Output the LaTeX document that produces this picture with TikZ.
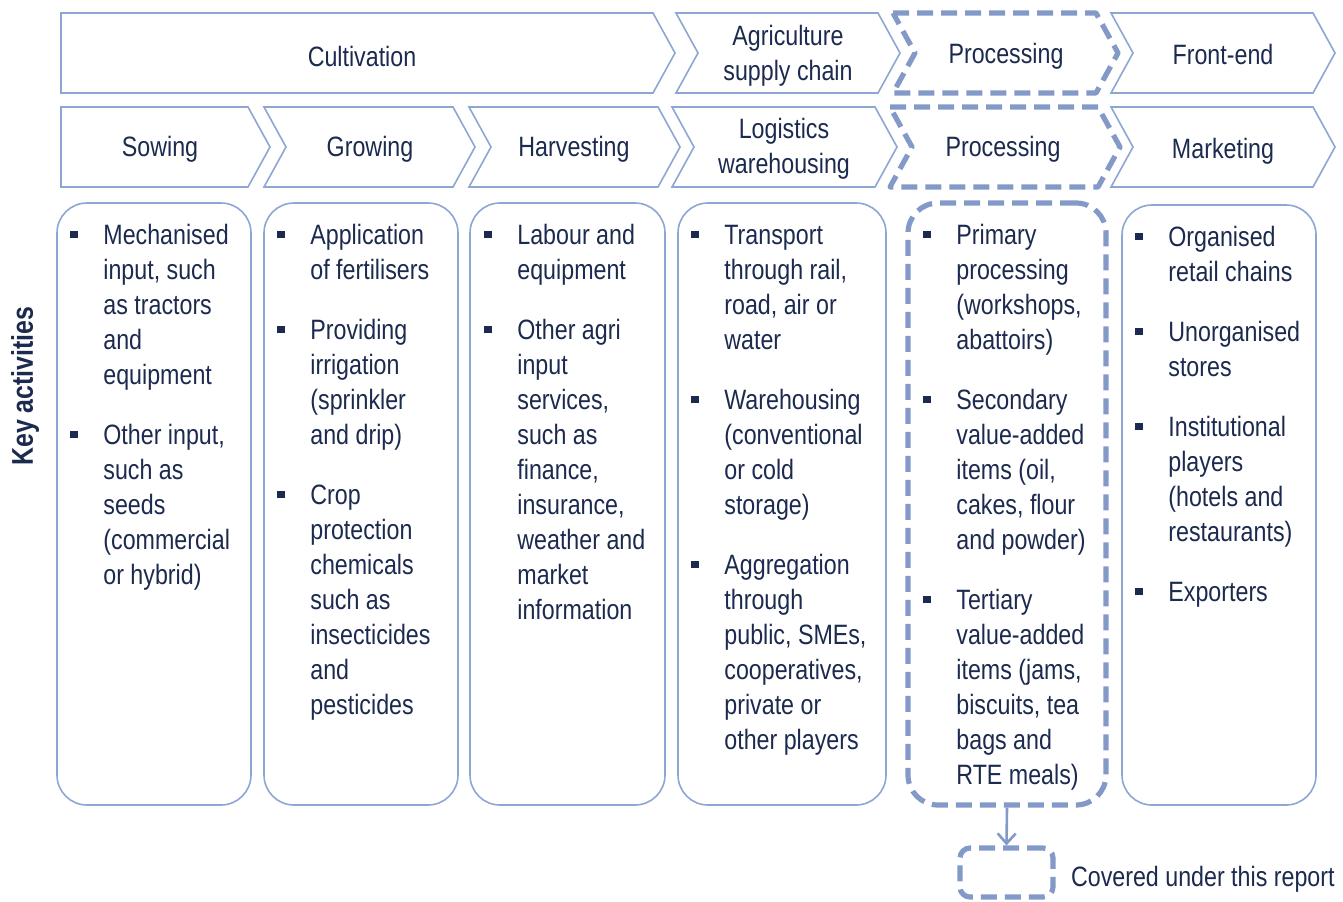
\documentclass[tikz,border=0pt]{standalone}
\usepackage{fontspec}
\setmainfont{Liberation Sans}[FakeStretch=0.83]
\usetikzlibrary{arrows.meta}
\definecolor{navy}{HTML}{1B2A4E}
\definecolor{chain}{HTML}{8EA6D3}
\definecolor{cover}{HTML}{8399C8}
\newcommand{\bul}{\rule[3.3pt]{3.8pt}{3.8pt}}
\newcommand{\gap}{\\[12.5pt]}

\begin{document}
\begin{tikzpicture}[x=0.5pt,y=-0.5pt,font=\fontsize{14}{17.5}\selectfont,text=navy]
  \tikzstyle{link}=[draw=chain,line width=0.8pt]
  \tikzstyle{focus}=[draw=cover,line width=2.6pt,dash pattern=on 8pt off 4pt,line join=round]
  \tikzstyle{actbox}=[link,rounded corners=15pt,minimum height=301pt,inner sep=0pt]
  \tikzstyle{acts}=[anchor=north west,inner sep=0pt]
  \useasboundingbox (0,0) rectangle (1343,901);
  % value chain, first row
  \draw[link] (61,13) -- (653,13) -- (675,53) -- (653,93) -- (61,93) -- cycle;
  \foreach \a/\b/\s in {676/900/link,893/1118/focus,1111/1335/link}
    \draw[\s] (\a,13) -- (\b-22,13) -- (\b,53) -- (\b-22,93) -- (\a,93) -- (\a+22,53) -- cycle;
  % value chain, second row
  \draw[link] (61,107) -- (248,107) -- (270,147) -- (248,187) -- (61,187) -- cycle;
  \foreach \a/\b/\s in {264/475/link,469/680/link,672/897/link,890/1120/focus,1111/1335/link}
    \draw[\s] (\a,107) -- (\b-22,107) -- (\b,147) -- (\b-22,187) -- (\a,187) -- (\a+22,147) -- cycle;
  \node (cult) at (362,56) {Cultivation};
  \node[align=center] (agri) at (788,56) {Agriculture\\supply chain};
  \node (proc) at (1006,56) {Processing};
  \node (front) at (1223,54) {Front-end};
  \node (sow) at (160,149) {Sowing};
  \node (grow) at (370,149) {Growing};
  \node (harv) at (574,149) {Harvesting};
  \node[align=center] (logi) at (784,149) {Logistics\\warehousing};
  \node (proc2) at (1003,149) {Processing};
  \node (mark) at (1223,151) {Marketing};
  \node[rotate=90,font=\fontsize{15}{18}\selectfont\bfseries] (key) at (25,386) {Key activities};
  % activity boxes
  \node[actbox,minimum width=97pt] (b1) at (154,504) {};
  \node[actbox,minimum width=97pt] (b2) at (361,504) {};
  \node[actbox,minimum width=97.5pt] (b3) at (567.5,504) {};
  \node[actbox,minimum width=104pt] (b4) at (782,504) {};
  \node[actbox,focus,minimum width=99pt] (b5) at (1007,504) {};
  \node[actbox,minimum width=97pt,minimum height=300pt] (b6) at (1219,505) {};
  \node[acts] (t1) at (70,220) {\begin{tabular}{@{}p{16.5pt}@{}l@{}}
    \bul & Mechanised\\ & input, such\\ & as tractors\\ & and\\ & equipment\gap
    \bul & Other input,\\ & such as\\ & seeds\\ & (commercial\\ & or hybrid)
  \end{tabular}};
  \node[acts] (t2) at (277,220) {\begin{tabular}{@{}p{16.5pt}@{}l@{}}
    \bul & Application\\ & of fertilisers\gap
    \bul & Providing\\ & irrigation\\ & (sprinkler\\ & and drip)\gap
    \bul & Crop\\ & protection\\ & chemicals\\ & such as\\ & insecticides\\ & and\\ & pesticides
  \end{tabular}};
  \node[acts] (t3) at (484,220) {\begin{tabular}{@{}p{16.5pt}@{}l@{}}
    \bul & Labour and\\ & equipment\gap
    \bul & Other agri\\ & input\\ & services,\\ & such as\\ & finance,\\ & insurance,\\ & weather and\\ & market\\ & information
  \end{tabular}};
  \node[acts] (t4) at (691,220) {\begin{tabular}{@{}p{16.5pt}@{}l@{}}
    \bul & Transport\\ & through rail,\\ & road, air or\\ & water\gap
    \bul & Warehousing\\ & (conventional\\ & or cold\\ & storage)\gap
    \bul & Aggregation\\ & through\\ & public, SMEs,\\ & cooperatives,\\ & private or\\ & other players
  \end{tabular}};
  \node[acts] (t5) at (923,220) {\begin{tabular}{@{}p{16.5pt}@{}l@{}}
    \bul & Primary\\ & processing\\ & (workshops,\\ & abattoirs)\gap
    \bul & Secondary\\ & value-added\\ & items (oil,\\ & cakes, flour\\ & and powder)\gap
    \bul & Tertiary\\ & value-added\\ & items (jams,\\ & biscuits, tea\\ & bags and\\ & RTE meals)
  \end{tabular}};
  \node[acts] (t6) at (1135,222) {\begin{tabular}{@{}p{16.5pt}@{}l@{}}
    \bul & Organised\\ & retail chains\gap
    \bul & Unorganised\\ & stores\gap
    \bul & Institutional\\ & players\\ & (hotels and\\ & restaurants)\gap
    \bul & Exporters
  \end{tabular}};
  % legend
  \node[focus,rounded corners=5pt,minimum width=46.5pt,minimum height=24.5pt,inner sep=0pt] (legend) at (1006.5,872.5) {};
  \node[anchor=west] (covered) at (1064,879) {Covered under this report};
  \draw[cover,line width=1.3pt,-{Straight Barb[length=5pt,width=9pt]}] (b5.south) -- (legend.north);
\end{tikzpicture}
\end{document}
